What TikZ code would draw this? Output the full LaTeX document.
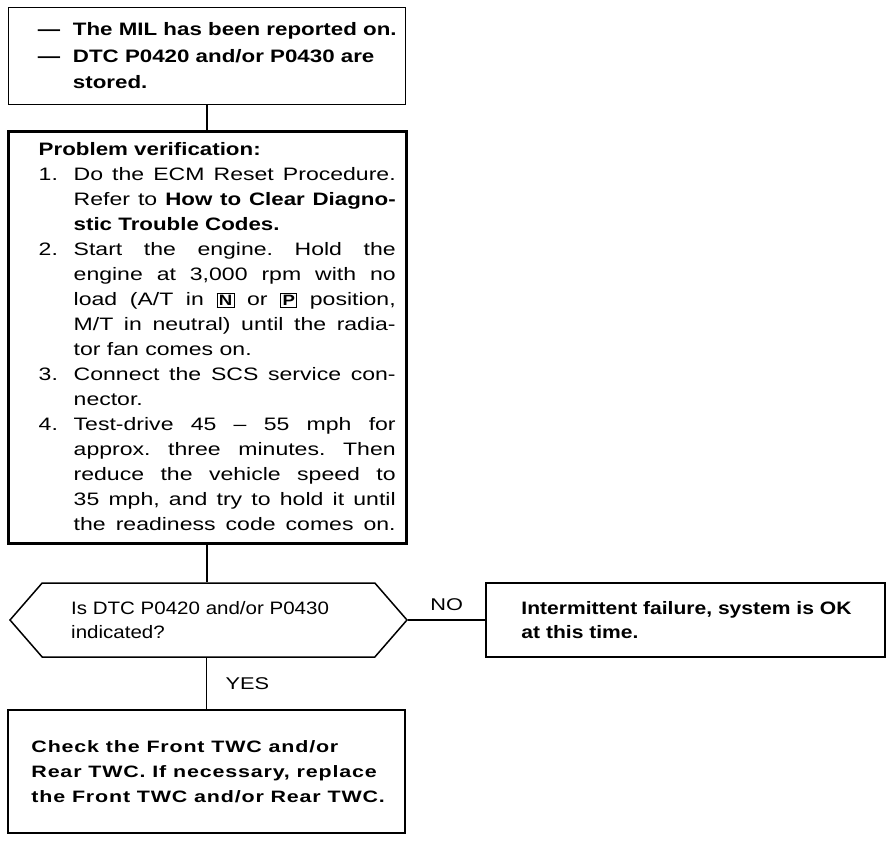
\documentclass[tikz,border=0pt]{standalone}
\usepackage{fontspec}
\setmainfont{Liberation Sans}[UprightFeatures={FakeStretch=1.28}, BoldFeatures={FakeStretch=1.24}]
\newfontfamily\askfont{Liberation Sans}[FakeStretch=1.14]
\newfontfamily\okfont{Liberation Sans}[FakeStretch=1.17]
\newfontfamily\checkfont{Liberation Sans}[FakeStretch=1.3, LetterSpace=5]
\usetikzlibrary{shapes.symbols}
\frenchspacing

\newcommand{\stepno}[1]{\makebox[35pt][l]{#1}}
\newcommand{\stepin}{\hspace*{35pt}}
\newcommand{\jline}[1]{\makebox[322pt][s]{#1}}
\newcommand{\gearkey}[1]{{\setlength{\fboxsep}{1.5pt}\setlength{\fboxrule}{0.8pt}\fbox{\fontsize{15}{15}\selectfont\textbf{#1}}}}

\begin{document}
\begin{tikzpicture}[x=1pt, y=-1pt,
    box/.style={draw, line width=1.5pt, inner sep=0pt},
    txt/.style={anchor=west, align=left, inner sep=0pt, font=\fontsize{18}{25}\selectfont},
    link/.style={line width=1.4pt}]
        \useasboundingbox (0,0) rectangle (896,840);

        % Starting condition
        \node[box, minimum width=397, minimum height=97] (mil) at (207,56) {};
        \node[txt, font=\fontsize{18}{26.5}\selectfont\bfseries] (miltxt) at ([xshift=30]mil.west)
            {\stepno{—}The MIL has been reported on.\\
             \stepno{—}DTC P0420 and/or P0430 are\\
             \stepin stored.};

        % Problem verification
        \node[box, line width=3pt, minimum width=398, minimum height=412] (verify) at (207,337) {};
        \node[txt] (verifytxt) at ([xshift=32]verify.west)
            {\textbf{Problem verification:}\\
             \stepno{1.}\jline{Do the ECM Reset Procedure.}\\
             \stepin\jline{Refer to \textbf{How to Clear Diagno-}}\\
             \stepin\textbf{stic Trouble Codes.}\\
             \stepno{2.}\jline{Start the engine. Hold the}\\
             \stepin\jline{engine at 3,000 rpm with no}\\
             \stepin\jline{load (A/T in \gearkey{N} or \gearkey{P} position,}\\
             \stepin\jline{M/T in neutral) until the radia-}\\
             \stepin tor fan comes on.\\
             \stepno{3.}\jline{Connect the SCS service con-}\\
             \stepin nector.\\
             \stepno{4.}\jline{Test-drive 45 – 55 mph for}\\
             \stepin\jline{approx. three minutes. Then}\\
             \stepin\jline{reduce the vehicle speed to}\\
             \stepin\jline{35 mph, and try to hold it until}\\
             \stepin\jline{the readiness code comes on.}};

        % Decision
        \node[draw, line width=1.5pt, signal, signal to=west and east, signal pointer angle=98,
              minimum width=397, minimum height=74, inner sep=0pt] (ask) at (208.5,620) {};
        \node[txt, font=\fontsize{18}{23.5}\selectfont\askfont] (asktxt) at ([xshift=62]ask.west)
            {Is DTC P0420 and/or P0430\\indicated?};

        % NO branch
        \node[box, minimum width=399, minimum height=74] (ok) at (685.5,620) {};
        \node[txt, font=\fontsize{18}{24}\selectfont\okfont\bfseries] (oktxt) at ([xshift=36]ok.west)
            {Intermittent failure, system is OK\\at this time.};

        % YES branch
        \node[box, minimum width=397, minimum height=123] (check) at (206.5,771.5) {};
        \node[txt, font=\fontsize{16.5}{25}\selectfont\checkfont\bfseries] (checktxt) at ([xshift=24]check.west)
            {Check the Front TWC and/or\\
             Rear TWC. If necessary, replace\\
             the Front TWC and/or Rear TWC.};

        % Connectors
        \draw[link] (mil) -- (verify);
        \draw[link] (verify) -- (verify.south |- ask.north);
        \draw[link] (ask.south -| check.north) -- node[right=15pt, font=\fontsize{17}{17}\selectfont] (yes) {YES} (check.north);
        \draw[link] (ask.east) -- node[above=5pt, font=\fontsize{17}{17}\selectfont] (no) {NO} (ok.west);
\end{tikzpicture}
\end{document}
